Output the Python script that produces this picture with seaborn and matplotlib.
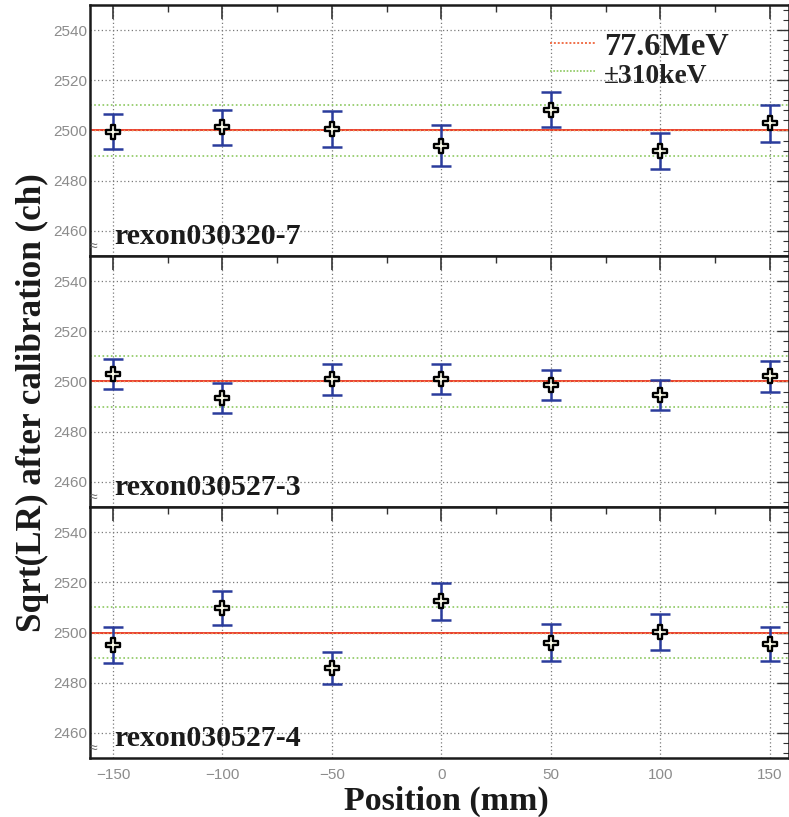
import matplotlib
matplotlib.use("Agg")
import matplotlib.pyplot as plt
from matplotlib.lines import Line2D
from matplotlib.ticker import MultipleLocator
import numpy as np
import pandas as pd
import seaborn as sns

# Scan positions along the counter (mm)
positions = [-150, -100, -50, 0, 50, 100, 150]

# Runs shown, top to bottom
runs = ["rexon030320-7", "rexon030527-3", "rexon030527-4"]

# Sqrt(LR) after calibration (ch) and its error for each run
peak_0320_7 = [2499.5, 2501.2, 2500.6, 2494.0, 2508.2, 2492.0, 2502.8]
err_0320_7 = [7.0, 7.0, 7.0, 8.0, 7.0, 7.2, 7.2]
peak_0527_3 = [2503.0, 2493.5, 2500.8, 2501.0, 2498.6, 2494.6, 2502.0]
err_0527_3 = [6.1, 6.1, 6.0, 6.1, 6.0, 6.1, 6.0]
peak_0527_4 = [2495.0, 2509.6, 2486.0, 2512.4, 2496.0, 2500.2, 2495.3]
err_0527_4 = [7.0, 6.8, 6.4, 7.5, 7.4, 7.0, 6.7]

peaks = [peak_0320_7, peak_0527_3, peak_0527_4]
errors = [err_0320_7, err_0527_3, err_0527_4]

# Reference channel for 77.6 MeV and the +-310 keV band
ref_channel = 2500.0
band_low, band_high = 2490.0, 2510.0

x_ticks = [-150, -100, -50, 0, 50, 100, 150]
y_ticks = [2460, 2480, 2500, 2520, 2540]

sns.set_theme(style="white")
plt.rcParams["font.family"] = ["Liberation Sans", "DejaVu Sans"]

serif_bold = {"family": "Liberation Serif", "weight": "bold"}

W, H = 789, 817
fig = plt.figure(figsize=(W / 100, H / 100), dpi=100)

left, right = 90 / W, 1.0
top_px, panel_px = 5, 251
axes = []
for i in range(3):
    y0 = 1 - (top_px + (i + 1) * panel_px) / H
    ax = fig.add_axes([left, y0, right - left, panel_px / H])
    axes.append(ax)

red = "#e8321e"
green = "#8cc860"
blue = "#2a3c9c"

for i, ax in enumerate(axes):
    df = pd.DataFrame({"pos": positions, "peak": peaks[i], "err": errors[i]})

    ax.set_xlim(-160.5, 158.7)
    ax.set_ylim(2450, 2550)

    # grid on major ticks
    ax.set_xticks(x_ticks)
    ax.set_yticks(y_ticks)
    ax.xaxis.set_minor_locator(MultipleLocator(25))
    ax.yaxis.set_minor_locator(MultipleLocator(4))
    ax.grid(True, which="major", color="#7a7a7a", linestyle=(0, (1, 2)), linewidth=0.9)

    # reference line and band
    ax.axhline(ref_channel, color=red, linewidth=1.3, zorder=2)
    ax.axhline(ref_channel, color="#f29a5a", linewidth=1.0, linestyle=(0, (1, 2)), zorder=2)
    ax.axhline(band_low, color=green, linewidth=1.2, linestyle=(0, (1, 1.5)), zorder=2)
    ax.axhline(band_high, color=green, linewidth=1.2, linestyle=(0, (1, 1.5)), zorder=2)

    # error bars and markers
    ax.errorbar(df["pos"], df["peak"], yerr=df["err"], fmt="none",
                ecolor=blue, elinewidth=1.8, capsize=7, capthick=1.8, zorder=3)
    sns.scatterplot(data=df, x="pos", y="peak", ax=ax, marker="P", s=115,
                    color="#fbfbea", edgecolor="black", linewidth=1.7, zorder=4,
                    legend=False)

    ax.set_xlabel("")
    ax.set_ylabel("")

    ax.tick_params(axis="both", which="both", direction="in", top=True, right=True,
                   color="#333333")
    ax.tick_params(axis="x", which="major", length=10, width=1.2)
    ax.tick_params(axis="x", which="minor", length=5, width=1.0)
    ax.tick_params(axis="y", which="major", length=9, width=1.0, labelsize=11,
                   labelcolor="#8c8c8c", pad=2)
    ax.tick_params(axis="y", which="minor", length=4, width=0.8)
    ax.tick_params(axis="x", labelsize=11, labelcolor="#8c8c8c", pad=7)

    for s in ax.spines.values():
        s.set_color("#1a1a1a")
        s.set_linewidth(1.8)

    if i < 2:
        ax.tick_params(axis="x", labelbottom=False)

    # axis break marker at the lower left
    ax.text(0.005, 0.04, "≈", transform=ax.transAxes, ha="center", va="center",
            fontsize=10, color="#666666")

    ax.text(0.035, 0.025, runs[i], transform=ax.transAxes, ha="left", va="bottom",
            fontsize=21.5, color="#1a1a1a", **serif_bold)

# legend in the top panel
handles = [
    Line2D([], [], color="#f0704a", linestyle=(0, (1, 1)), linewidth=1.4),
    Line2D([], [], color=green, linestyle=(0, (1, 1)), linewidth=1.2),
]
leg = axes[0].legend(handles, ["77.6MeV", "±310keV"], loc="upper left",
                     bbox_to_anchor=(0.658, 0.893), frameon=False,
                     borderpad=0, borderaxespad=0,
                     handlelength=1.4, handletextpad=0.28, labelspacing=-0.05,
                     prop={"family": "Liberation Serif", "weight": "bold", "size": 23.3})
leg.get_texts()[1].set_fontsize(19.8)
for t in leg.get_texts():
    t.set_color("#222222")

fig.text(32 / W, 1 - 403 / H, "Sqrt(LR) after calibration (ch)", rotation=90,
         ha="center", va="center", fontsize=25.3, color="#1a1a1a", **serif_bold)
fig.text(446 / W, 1 - 801 / H, "Position (mm)", ha="center", va="center",
         fontsize=24.5, color="#1a1a1a", **serif_bold)

fig.savefig("out.png", dpi=100)
